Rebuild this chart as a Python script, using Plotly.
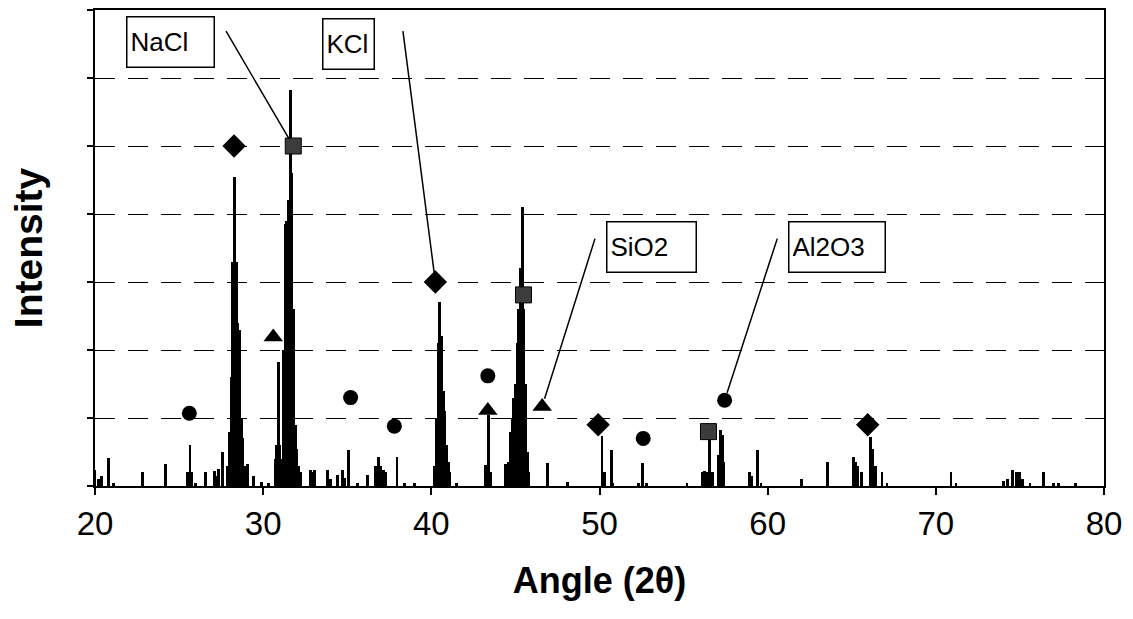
import plotly.graph_objects as go

# ---- diffraction pattern (2-theta, intensity in grid units) ----
angle = [20.0, 20.2, 20.4, 20.8, 21.1, 22.8, 24.2, 25.5, 25.65, 25.75, 26.0, 26.55,
         27.1, 27.2, 27.35, 27.6, 27.9, 28.0, 28.1, 28.2, 28.3, 28.4, 28.5, 28.6,
         28.7, 28.8, 28.9, 29.05, 29.4, 29.9, 30.3, 30.7, 30.8, 30.9, 31.0, 31.1,
         31.2, 31.3, 31.4, 31.5, 31.6, 31.65, 31.7, 31.8, 31.9, 32.0, 32.1, 32.2,
         32.8, 32.9, 33.05, 33.8, 34.0, 34.4, 34.7, 34.85, 35.08, 35.6, 36.2, 36.67,
         36.86, 37.0, 37.15, 37.3, 37.96, 38.4, 39.0, 40.2, 40.3, 40.4, 40.5, 40.6,
         40.7, 40.8, 40.9, 41.0, 41.1, 41.5, 43.2, 43.38, 43.55, 44.4, 44.6, 44.7,
         44.8, 44.9, 45.0, 45.1, 45.2, 45.3, 45.4, 45.5, 45.6, 45.7, 45.8, 46.93,
         48.1, 50.15, 50.3, 50.7, 50.8, 52.3, 52.55, 52.8, 55.2, 56.1, 56.25, 56.4,
         56.55, 56.7, 57.1, 57.2, 57.3, 57.4, 58.9, 59.05, 59.4, 59.6, 62.0, 63.55,
         65.1, 65.2, 65.35, 65.6, 66.1, 66.25, 66.4, 66.8, 67.1, 70.9, 71.2, 74.0,
         74.25, 74.55, 74.8, 75.0, 75.15, 75.6, 76.4, 77.0, 77.3, 78.3]
intensity = [0.24, 0.10, 0.15, 0.41, 0.05, 0.21, 0.32, 0.20, 0.60, 0.20, 0.05, 0.21,
             0.22, 0.15, 0.25, 0.50, 0.30, 0.80, 1.60, 3.30, 4.55, 3.30, 2.40, 2.30,
             1.00, 0.70, 0.30, 0.32, 0.15, 0.06, 0.05, 0.40, 0.60, 1.82, 0.60, 0.40,
             2.00, 3.85, 3.90, 4.20, 5.00, 5.82, 4.60, 2.60, 0.90, 0.55, 0.30, 0.20,
             0.23, 0.20, 0.23, 0.23, 0.10, 0.16, 0.24, 0.12, 0.53, 0.05, 0.16, 0.30,
             0.42, 0.30, 0.23, 0.20, 0.43, 0.04, 0.04, 0.30, 1.00, 2.10, 2.71, 2.20,
             1.40, 1.10, 0.60, 0.35, 0.20, 0.05, 0.31, 1.05, 0.20, 0.32, 0.35, 0.80,
             1.00, 1.30, 1.50, 2.10, 2.60, 3.20, 4.10, 2.60, 1.50, 0.50, 0.20, 0.34,
             0.06, 0.74, 0.20, 0.53, 0.05, 0.04, 0.34, 0.04, 0.05, 0.20, 0.22, 0.20,
             0.68, 0.20, 0.45, 0.82, 0.75, 0.35, 0.20, 0.15, 0.53, 0.05, 0.10, 0.35,
             0.43, 0.35, 0.30, 0.20, 0.72, 0.55, 0.30, 0.20, 0.05, 0.20, 0.04, 0.07,
             0.11, 0.23, 0.20, 0.20, 0.10, 0.05, 0.20, 0.04, 0.04, 0.04]

# ---- phase markers ----
kcl_angle = [28.27, 40.24, 49.92, 65.95]
kcl_level = [5.00, 3.00, 0.90, 0.90]
nacl_angle = [31.79, 45.48, 56.48]
nacl_level = [5.00, 2.81, 0.80]
sio2_angle = [30.60, 43.36, 46.59]
sio2_level = [2.19, 1.11, 1.17]
al2o3_angle = [25.61, 35.20, 37.80, 43.36, 52.60, 57.44]
al2o3_level = [1.07, 1.30, 0.88, 1.62, 0.70, 1.26]

x_ticks = [20, 30, 40, 50, 60, 70, 80]

FONT = "Liberation Sans, Arial, sans-serif"

fig = go.Figure()
fig.add_trace(go.Bar(x=angle, y=intensity, width=0.17,
                     marker=dict(color="black", line=dict(width=0)),
                     showlegend=False, hoverinfo="skip"))
fig.add_trace(go.Scatter(x=kcl_angle, y=kcl_level, mode="markers", name="KCl",
                         marker=dict(symbol="diamond", size=18, color="black")))
fig.add_trace(go.Scatter(x=nacl_angle, y=nacl_level, mode="markers", name="NaCl",
                         marker=dict(symbol="square", size=16, color="#3c3c3c",
                                     line=dict(color="black", width=1))))
fig.add_trace(go.Scatter(x=sio2_angle, y=sio2_level, mode="markers", name="SiO2",
                         marker=dict(symbol="triangle-up", size=17, color="black")))
fig.add_trace(go.Scatter(x=al2o3_angle, y=al2o3_level, mode="markers", name="Al2O3",
                         marker=dict(symbol="circle", size=15, color="black")))

# label boxes: (text, left angle, top level, width, height) and leader tails
labels = [
    ("NaCl", 21.85, 6.91, 80, 43, 27.74, 6.71, nacl_angle[0], nacl_level[0]),
    ("KCl", 33.51, 6.88, 44, 43, 38.30, 6.71, kcl_angle[1], kcl_level[1]),
    ("SiO2", 50.36, 3.90, 82, 43, 49.76, 3.66, sio2_angle[2], sio2_level[2]),
    ("Al2O3", 61.19, 3.90, 89, 43, 60.60, 3.66, al2o3_angle[5], al2o3_level[5]),
]
for text, lx, ly, w, h, tx, ty, px, py in labels:
    fig.add_annotation(x=lx, y=ly, xref="x", yref="y", xanchor="left", yanchor="top",
                       text=text, showarrow=False, width=w, height=h, align="left",
                       valign="middle", bordercolor="black", borderwidth=1.5,
                       borderpad=3, bgcolor="white",
                       font=dict(family=FONT, size=26, color="black"))
    fig.add_annotation(x=px, y=py, xref="x", yref="y", ax=tx, ay=ty, axref="x",
                       ayref="y", text="", showarrow=True, arrowhead=0,
                       arrowwidth=1.5, arrowcolor="black", standoff=8)

fig.update_layout(
    width=1133, height=619,
    margin=dict(l=95, r=29, t=8, b=133),
    paper_bgcolor="white", plot_bgcolor="white",
    showlegend=False, bargap=0,
    font=dict(family=FONT, color="black"),
)
fig.update_xaxes(range=[20, 80], tickvals=x_ticks, ticktext=[str(v) for v in x_ticks],
                 showline=True, linecolor="black", linewidth=2, mirror=True,
                 ticks="outside", ticklen=7, tickwidth=1.5, tickcolor="black",
                 showgrid=False, zeroline=False,
                 tickfont=dict(family=FONT, size=33, color="black"),
                 title=dict(text="<b>Angle (2θ)</b>", standoff=27,
                            font=dict(family=FONT, size=36, color="black")))
fig.update_yaxes(range=[0, 7], dtick=1, showticklabels=False,
                 showline=True, linecolor="black", linewidth=2, mirror=True,
                 ticks="outside", ticklen=6, tickwidth=1.5, tickcolor="black",
                 showgrid=True, gridcolor="black", gridwidth=1.3, griddash="20px,13px",
                 zeroline=False,
                 title=dict(text="<b>Intensity</b>", standoff=32,
                            font=dict(family=FONT, size=39, color="black")))

fig.write_html("out.html")
